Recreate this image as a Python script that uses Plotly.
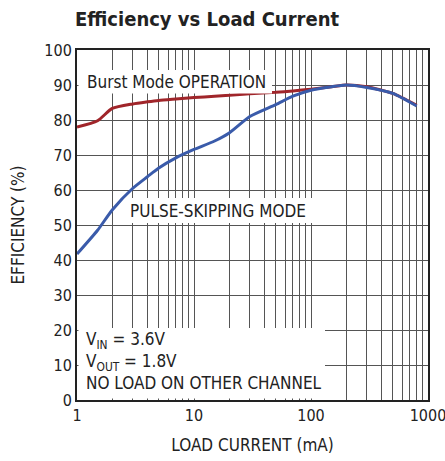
import plotly.graph_objects as go

# Data
load_ma = [1, 1.5, 2, 3, 4, 5, 7, 10, 15, 20, 30, 50, 70, 100, 150, 200, 300, 500, 800]
burst_eff = [78, 79.8, 83.3, 84.6, 85.2, 85.6, 86.0, 86.4, 86.8, 87.1, 87.5, 87.9, 88.3, 88.8, 89.5, 90.0, 89.5, 87.6, 84.2]
pulse_eff = [41.7, 48.5, 54.3, 60.5, 63.8, 66.3, 69.2, 71.6, 74.0, 76.3, 81.0, 84.4, 86.8, 88.5, 89.5, 90.0, 89.3, 87.6, 84.0]

x_ticks = [1, 10, 100, 1000]
y_ticks = list(range(0, 101, 10))

FONT = "DejaVu Sans Condensed, Roboto Condensed, Roboto, Liberation Sans"
GRID = "#555555"

def px_x(p):
    return (p - 77) / 351.0

def px_y(p):
    return (400 - p) / 350.0

fig = go.Figure()
fig.add_trace(go.Scatter(x=load_ma, y=burst_eff, mode="lines",
                         line=dict(color="#A0252A", width=3, shape="spline", smoothing=0.6),
                         showlegend=False))
fig.add_trace(go.Scatter(x=load_ma, y=pulse_eff, mode="lines",
                         line=dict(color="#3A5BAA", width=3, shape="spline", smoothing=0.6),
                         showlegend=False))

for (a, b, c, d) in [(78.5, 272, 70, 93.5), (125, 312, 198, 223), (78.5, 325, 328, 398.5)]:
    fig.add_shape(type="rect", xref="paper", yref="paper",
                  x0=px_x(a), x1=px_x(b), y0=px_y(d), y1=px_y(c),
                  fillcolor="white", line=dict(width=0), layer="above")

fig.add_annotation(text="Burst Mode OPERATION", xref="paper", yref="paper",
                   x=px_x(85), y=px_y(82), xanchor="left", yanchor="middle",
                   showarrow=False, font=dict(family=FONT, size=17, color="#222"))
fig.add_annotation(text="PULSE-SKIPPING MODE", xref="paper", yref="paper",
                   x=px_x(128), y=px_y(211), xanchor="left", yanchor="middle",
                   showarrow=False, font=dict(family=FONT, size=17, color="#222"))
fig.add_annotation(text="V<sub>IN</sub> = 3.6V<br>V<sub>OUT</sub> = 1.8V<br>NO LOAD ON OTHER CHANNEL",
                   xref="paper", yref="paper", x=px_x(84), y=px_y(327),
                   xanchor="left", yanchor="top", align="left",
                   showarrow=False, font=dict(family=FONT, size=17, color="#222"))

fig.update_layout(
    width=445, height=461,
    margin=dict(l=77, r=17, t=50, b=61, autoexpand=False),
    paper_bgcolor="white", plot_bgcolor="white",
    title=dict(text="<b>Efficiency vs Load Current</b>", x=75/445, xanchor="left",
               y=1 - 19/461, yanchor="middle",
               font=dict(family=FONT, size=20, color="#222")),
    font=dict(family=FONT, color="#222"),
)
fig.update_xaxes(type="log", range=[0, 3], tickvals=x_ticks, ticktext=[str(v) for v in x_ticks],
                 automargin=False, ticklabeloverflow="allow",
                 showgrid=True, gridcolor=GRID, gridwidth=1,
                 minor=dict(dtick="D1", showgrid=True, gridcolor=GRID, gridwidth=1, ticks=""),
                 showline=True, linecolor="#222", linewidth=2, mirror=True, ticks="",
                 tickfont=dict(family=FONT, size=16, color="#222"),
                 title=dict(text="LOAD CURRENT (mA)", font=dict(family=FONT, size=17, color="#222")))
fig.update_yaxes(range=[0, 100], tickvals=y_ticks, automargin=False,
                 showgrid=True, gridcolor=GRID, gridwidth=1,
                 showline=True, linecolor="#222", linewidth=2, mirror=True, ticks="",
                 tickfont=dict(family=FONT, size=16, color="#222"),
                 title=dict(text="EFFICIENCY (%)", font=dict(family=FONT, size=17, color="#222")))

fig.write_html("out.html", config={"displayModeBar": False},
               post_script="document.body.style.margin='0';")
